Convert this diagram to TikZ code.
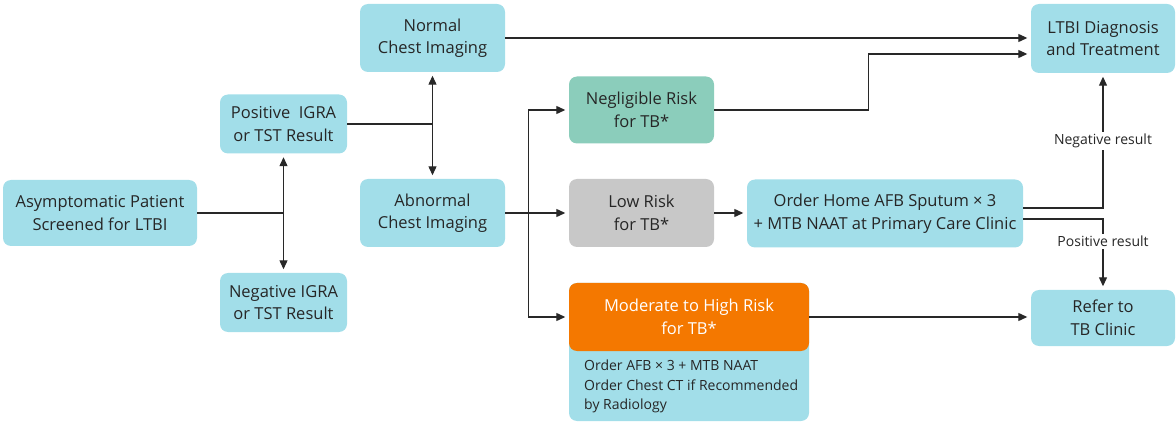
\documentclass[tikz,border=0pt]{standalone}
\usepackage{fontspec}
\setmainfont{Open Sans}
\usetikzlibrary{arrows.meta}
\definecolor{boxblue}{RGB}{162,222,233}
\definecolor{boxgreen}{RGB}{139,205,187}
\definecolor{boxgray}{RGB}{200,200,200}
\definecolor{boxorange}{RGB}{244,120,0}
\definecolor{linegray}{RGB}{40,40,40}
\tikzset{
  box/.style={rounded corners=8pt,fill=boxblue,text=black!85,align=center,
    font=\fontsize{16.5}{22.5}\selectfont,inner sep=0pt},
  conn/.style={draw=linegray,line width=1.2pt},
  arr/.style={->,shorten >=3.5pt},
  lbl/.style={fill=white,text=black!85,font=\fontsize{14}{16}\selectfont,inner sep=2pt}
}
\begin{document}
\begin{tikzpicture}[x=1pt,y=-1pt,>={Triangle[length=9pt,width=8pt]}]
  \useasboundingbox (0,0) rectangle (1176,422);
  % boxes
  \node[box,minimum width=194pt,minimum height=66pt] (asym) at (100,213) {Asymptomatic Patient\\Screened for LTBI};
  \node[box,minimum width=127pt,minimum height=59pt] (pos) at (283.5,124) {Positive\ \ IGRA\\or TST Result};
  \node[box,minimum width=127pt,minimum height=59pt] (neg) at (283.5,302.5) {Negative IGRA\\or TST Result};
  \node[box,minimum width=145pt,minimum height=68pt] (normal) at (432.5,38) {Normal\\Chest Imaging};
  \node[box,minimum width=145pt,minimum height=68pt] (abnormal) at (432.5,213) {Abnormal\\Chest Imaging};
  \node[box,fill=boxgreen,minimum width=145pt,minimum height=67pt] (negl) at (641.5,110) {Negligible Risk\\for TB*};
  \node[box,fill=boxgray,minimum width=145pt,minimum height=68pt] (low) at (641.5,213) {Low Risk\\for TB*};
  \node[box,minimum width=276pt,minimum height=68pt] (home) at (885,213.5) {Order Home AFB Sputum × 3\\+ MTB NAAT at Primary Care Clinic};
  % moderate/high risk: orange head over a blue box with the orders
  \node[box,minimum width=240pt,minimum height=138pt] (modinfo) at (689,352) {};
  \node[box,fill=boxorange,text=white,minimum width=240pt,minimum height=68pt] (modrisk) at (689,317) {Moderate to High Risk\\for TB*};
  \node[anchor=west,align=left,text=black!85,inner sep=0pt,
    font=\fontsize{14}{19.5}\selectfont] (modnote) at (584,386.5)
    {Order AFB × 3 + MTB NAAT\\Order Chest CT if Recommended\\by Radiology};
  \node[box,minimum width=144pt,minimum height=69pt] (ltbi) at (1103,38.5) {LTBI Diagnosis\\and Treatment};
  \node[box,minimum width=144pt,minimum height=56pt] (refer) at (1103,318) {Refer to\\TB Clinic};
  % connectors
  \begin{scope}[every path/.style={conn}]
    \draw (asym.east) -- (asym.east -| pos.south);
    \draw[arr,<->,shorten <=3.5pt] (pos.south) -- (neg.north);
    \draw (pos.east) -- (pos.east -| normal.south);
    \draw[arr,<->,shorten <=3.5pt] (normal.south) -- (abnormal.north);
    \draw[arr] (normal.east) -- (ltbi.west |- normal.east);
    \draw[arr] (negl.east) -- ++(154,0) |- ([yshift=-15.5pt]ltbi.west);
    \draw[arr] (abnormal.east) -- (low.west);
    \draw[arr] ([xshift=23pt]abnormal.east) |- (negl.west);
    \draw[arr] ([xshift=23pt]abnormal.east) |- (modrisk.west);
    \draw[arr] (low.east) -- (home.west |- low.east);
    \draw[arr] ([yshift=5.5pt]home.east) -| (ltbi.south) node[lbl,pos=0.75]{Negative result};
    \draw[arr] ([yshift=-5.5pt]home.east) -| (refer.north) node[lbl,pos=0.66]{Positive result};
    \draw[arr] (modrisk.east) -- (refer.west |- modrisk.east);
  \end{scope}
\end{tikzpicture}
\end{document}
